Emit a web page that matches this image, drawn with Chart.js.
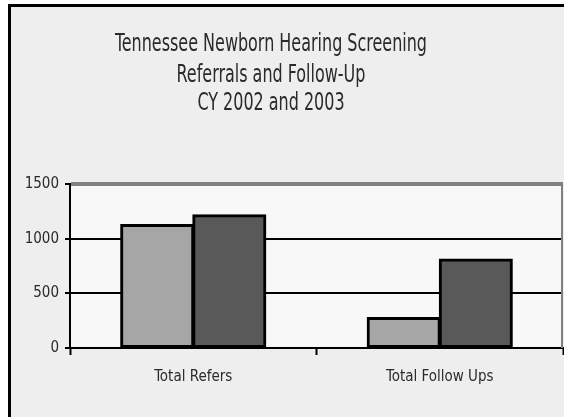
<!DOCTYPE html>
<html>
<head>
<meta charset="utf-8">
<script src="https://cdn.jsdelivr.net/npm/chart.js@4.4.0/dist/chart.umd.min.js"></script>
<style>
  html, body { margin: 0; padding: 0; background: #ffffff; }
  #wrap { width: 564px; height: 417px; position: relative; }
</style>
</head>
<body>
<div id="wrap"><canvas id="c" width="564" height="417"></canvas></div>
<script>
const titleLines = ["Tennessee Newborn Hearing Screening", "Referrals and Follow-Up", "CY 2002 and 2003"];
const categories = ["Total Refers", "Total Follow Ups"];
const seriesNames = ["CY 2002", "CY 2003"];
const values2002 = [1125, 275];
const values2003 = [1215, 810];
const yTicks = [0, 500, 1000, 1500];

const FONT = "'DejaVu Sans Condensed', 'Liberation Sans Narrow', sans-serif";

const framePlugin = {
  id: 'frame',
  beforeDraw(chart) {
    const ctx = chart.ctx;
    const a = chart.chartArea;
    ctx.save();
    ctx.fillStyle = '#ffffff';
    ctx.fillRect(0, 0, chart.width, chart.height);
    ctx.fillStyle = '#eeeeee';
    ctx.fillRect(8, 4, chart.width - 8, chart.height - 4);
    ctx.fillStyle = '#000000';
    ctx.fillRect(8, 4, 3, chart.height - 4);
    ctx.fillRect(8, 4, chart.width - 8, 3);
    ctx.fillStyle = '#f8f8f8';
    ctx.fillRect(a.left, a.top, a.right - a.left, a.bottom - a.top);
    // title (tall, condensed look)
    ctx.fillStyle = '#2a2a2a';
    ctx.font = '24px ' + FONT;
    ctx.textAlign = 'center';
    ctx.textBaseline = 'middle';
    const w0 = ctx.measureText(titleLines[0]).width;
    const sx = 312 / w0;
    const ys = [45, 76, 104];
    titleLines.forEach((t, i) => {
      ctx.save();
      ctx.translate(271, ys[i]);
      ctx.scale(sx, 1);
      ctx.fillText(t, 0, 0);
      ctx.restore();
    });
    ctx.restore();
  },
  afterDatasetsDraw(chart) {
    const ctx = chart.ctx;
    const a = chart.chartArea;
    ctx.save();
    ctx.strokeStyle = '#808080';
    ctx.lineWidth = 2;
    ctx.beginPath();
    ctx.moveTo(a.right - 1, a.top);
    ctx.lineTo(a.right - 1, a.bottom);
    ctx.stroke();
    ctx.restore();
  }
};

new Chart(document.getElementById('c'), {
  type: 'bar',
  data: {
    labels: categories,
    datasets: [
      { label: seriesNames[0], data: values2002, backgroundColor: '#a6a6a6', borderColor: '#000000', borderWidth: 3, borderSkipped: false, inflateAmount: 1 },
      { label: seriesNames[1], data: values2003, backgroundColor: '#595959', borderColor: '#000000', borderWidth: 3, borderSkipped: false, inflateAmount: 1 }
    ]
  },
  options: {
    responsive: false,
    animation: false,
    devicePixelRatio: 1,
    layout: { padding: { top: 184, right: 1, bottom: 0, left: 0 } },
    datasets: { bar: { categoryPercentage: 0.585, barPercentage: 1.0 } },
    plugins: {
      legend: { display: false },
      title: { display: false },
      tooltip: { enabled: false }
    },
    scales: {
      x: {
        afterFit(scale) { scale.height = 69; },
        grid: {
          display: true, drawOnChartArea: false, drawTicks: true,
          tickLength: 7, tickColor: '#000000', tickWidth: 2, offset: true
        },
        border: { display: true, color: '#000000', width: 2 },
        ticks: { color: '#2a2a2a', font: { family: FONT, size: 15 }, padding: 13 }
      },
      y: {
        min: 0, max: 1500,
        afterFit(scale) { scale.width = 70; },
        afterBuildTicks(scale) { scale.ticks = yTicks.map(v => ({ value: v })); },
        grid: {
          color: ctx => (ctx.tick && ctx.tick.value === 1500) ? '#808080' : '#000000',
          lineWidth: ctx => (ctx.tick && ctx.tick.value === 1500) ? 4 : 2,
          tickLength: 5, tickColor: '#000000', tickWidth: 2
        },
        border: { display: true, color: '#000000', width: 2 },
        ticks: { color: '#2a2a2a', font: { family: FONT, size: 15 }, padding: 6, callback: v => String(v) }
      }
    }
  },
  plugins: [framePlugin]
});
</script>
</body>
</html>
